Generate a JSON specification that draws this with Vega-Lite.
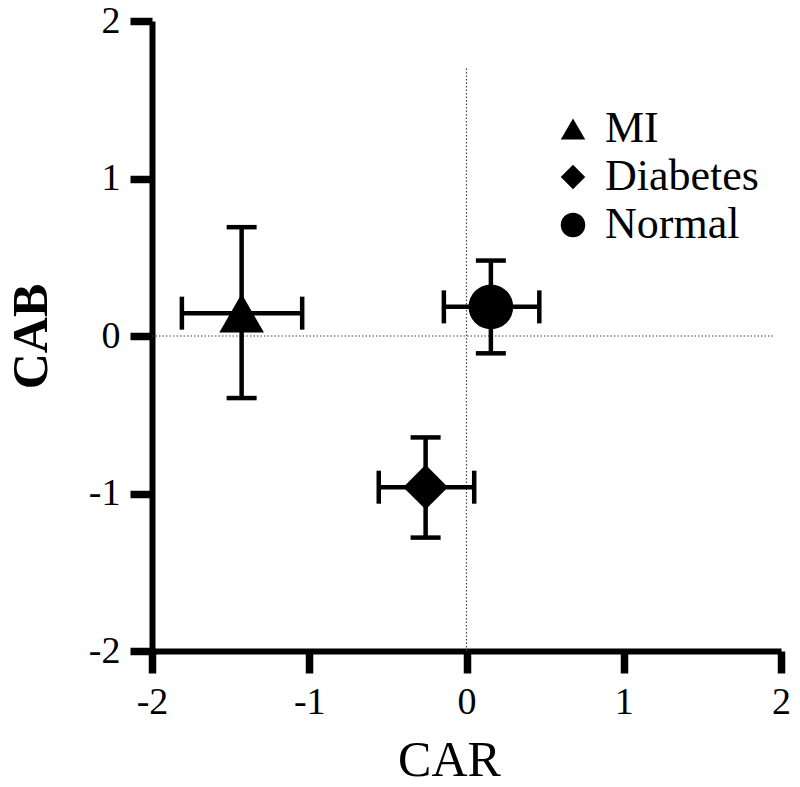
{
  "$schema": "https://vega.github.io/schema/vega-lite/v6.json",
  "autosize": "none",
  "width": 629,
  "height": 630,
  "padding": {"left": 152, "top": 21, "right": 19, "bottom": 136},
  "background": "white",
  "config": {
    "view": {"stroke": null},
    "font": "Liberation Serif",
    "axis": {
      "grid": false,
      "domainColor": "black",
      "domainWidth": 6,
      "tickColor": "black",
      "tickWidth": 7.5,
      "tickSize": 22,
      "labelFont": "Liberation Serif",
      "labelFontSize": 38,
      "labelColor": "black",
      "labelPadding": 10,
      "labelFlush": false,
      "labelOverlap": false,
      "titleFont": "Liberation Serif",
      "titleFontSize": 50,
      "titleFontWeight": "normal",
      "titleColor": "black"
    },
    "legend": {
      "labelFont": "Liberation Serif",
      "labelFontSize": 44,
      "labelColor": "black"
    }
  },
  "datasets": {
    "groups": [
      {"group": "MI", "car": -1.43, "car_lo": -1.81, "car_hi": -1.045, "cab": 0.145, "cab_lo": -0.394, "cab_hi": 0.691},
      {"group": "Diabetes", "car": -0.26, "car_lo": -0.558, "car_hi": 0.049, "cab": -0.96, "cab_lo": -1.28, "cab_hi": -0.644},
      {"group": "Normal", "car": 0.155, "car_lo": -0.144, "car_hi": 0.463, "cab": 0.185, "cab_lo": -0.11, "cab_hi": 0.479}
    ],
    "vref": [{"x": 0, "y": -2, "y2": 1.7}],
    "href": [{"y": 0, "x": -2, "x2": 1.96}]
  },
  "layer": [
    {
      "data": {"name": "vref"},
      "mark": {"type": "rule", "color": "#444444", "strokeWidth": 1.2, "strokeDash": [1.5, 2]},
      "encoding": {
        "x": {"field": "x", "type": "quantitative", "scale": {"domain": [-2, 2], "nice": false, "zero": false},
              "axis": {"values": [-2, -1, 0, 1, 2], "title": "CAR", "titlePadding": 14, "titleX": 297, "labelExpr": "'' + datum.value"}},
        "y": {"field": "y", "type": "quantitative", "scale": {"domain": [-2, 2], "nice": false, "zero": false},
              "axis": {"values": [-2, -1, 0, 1, 2], "title": "CAB", "titlePadding": 32, "titleFontWeight": "bold", "labelExpr": "'' + datum.value"}},
        "y2": {"field": "y2"}
      }
    },
    {
      "data": {"name": "href"},
      "mark": {"type": "rule", "color": "#444444", "strokeWidth": 1.2, "strokeDash": [1.5, 2]},
      "encoding": {
        "x": {"field": "x", "type": "quantitative"},
        "x2": {"field": "x2"},
        "y": {"field": "y", "type": "quantitative"}
      }
    },
    {
      "data": {"name": "groups"},
      "mark": {"type": "rule", "color": "black", "strokeWidth": 4.5},
      "encoding": {
        "x": {"field": "car_lo", "type": "quantitative"},
        "x2": {"field": "car_hi"},
        "y": {"field": "cab", "type": "quantitative"}
      }
    },
    {
      "data": {"name": "groups"},
      "mark": {"type": "rule", "color": "black", "strokeWidth": 4.5},
      "encoding": {
        "x": {"field": "car", "type": "quantitative"},
        "y": {"field": "cab_lo", "type": "quantitative"},
        "y2": {"field": "cab_hi"}
      }
    },
    {
      "data": {"name": "groups"},
      "mark": {"type": "tick", "color": "black", "orient": "vertical", "size": 33, "thickness": 4.5, "opacity": 1},
      "encoding": {
        "x": {"field": "car_lo", "type": "quantitative"},
        "y": {"field": "cab", "type": "quantitative"}
      }
    },
    {
      "data": {"name": "groups"},
      "mark": {"type": "tick", "color": "black", "orient": "vertical", "size": 33, "thickness": 4.5, "opacity": 1},
      "encoding": {
        "x": {"field": "car_hi", "type": "quantitative"},
        "y": {"field": "cab", "type": "quantitative"}
      }
    },
    {
      "data": {"name": "groups"},
      "mark": {"type": "tick", "color": "black", "orient": "horizontal", "size": 30, "thickness": 4.5, "opacity": 1},
      "encoding": {
        "x": {"field": "car", "type": "quantitative"},
        "y": {"field": "cab_lo", "type": "quantitative"}
      }
    },
    {
      "data": {"name": "groups"},
      "mark": {"type": "tick", "color": "black", "orient": "horizontal", "size": 30, "thickness": 4.5, "opacity": 1},
      "encoding": {
        "x": {"field": "car", "type": "quantitative"},
        "y": {"field": "cab_hi", "type": "quantitative"}
      }
    },
    {
      "data": {"name": "groups"},
      "mark": {"type": "point", "filled": true, "color": "black", "opacity": 1, "size": 2000, "strokeWidth": 0},
      "encoding": {
        "x": {"field": "car", "type": "quantitative"},
        "y": {"field": "cab", "type": "quantitative"},
        "shape": {
          "field": "group", "type": "nominal",
          "scale": {"domain": ["MI", "Diabetes", "Normal"], "range": ["triangle-up", "diamond", "circle"]},
          "legend": {
            "title": null,
            "orient": "none",
            "legendX": 399,
            "legendY": 86,
            "padding": 0,
            "symbolSize": 600,
            "symbolFillColor": "black",
            "symbolStrokeWidth": 0,
            "symbolOpacity": 1,
            "labelOffset": 10,
            "rowPadding": 4
          }
        }
      }
    }
  ]
}
